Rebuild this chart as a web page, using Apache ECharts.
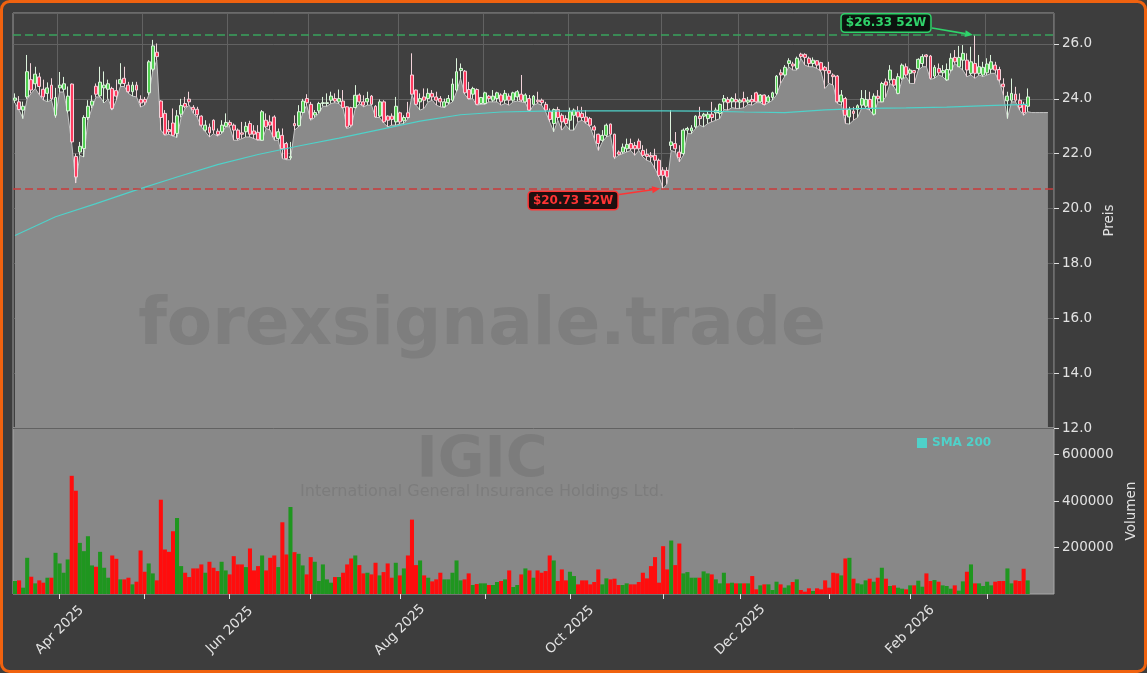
<!DOCTYPE html>
<html><head><meta charset="utf-8">
<script src="https://cdn.jsdelivr.net/npm/echarts@6/dist/echarts.min.js"></script>
<style>html,body{margin:0;padding:0;background:#3d3d3d;}#c{width:1147px;height:673px;}</style>
</head><body><div id="c"></div>
<script>
// ---------- data ----------
const startDate = '2025-03-17';
const marketHolidays = ['2025-04-18','2025-05-26','2025-06-19','2025-07-04','2025-09-01','2025-11-27','2025-12-25','2026-01-01','2026-01-19','2026-02-16'];
const monthNames = ['Jan','Feb','Mar','Apr','May','Jun','Jul','Aug','Sep','Oct','Nov','Dec'];

const opens = [23.95,23.89,23.59,24.07,24.7,24.55,24.8,24.35,24.2,24.5,23.4,24.4,24.35,23.56,24.54,21.9,22.06,22.19,23.32,23.77,
24.46,24.11,24.4,24.35,24.38,24.3,24.55,24.75,24.5,24.26,24.5,23.98,23.98,24.22,25.08,25.7,23.92,23.47,22.88,23.12,
22.74,23.44,23.83,23.99,23.69,23.62,23.37,22.86,22.97,23.22,22.82,22.8,23.0,23.14,23.04,22.86,22.76,22.8,23.1,22.83,
22.78,22.49,23.22,23.16,23.34,22.55,22.67,22.37,21.85,23.1,23.02,23.5,24.01,23.8,23.41,23.56,23.83,23.83,23.95,24.01,
23.89,23.92,23.71,23.68,23.68,24.14,23.89,23.89,24.1,23.73,23.37,23.89,23.37,23.37,23.16,23.49,23.2,23.49,24.87,24.32,
23.89,24.07,24.01,24.2,24.07,24.01,23.71,23.86,23.95,24.32,25.03,25.01,24.34,24.17,24.34,23.83,23.83,24.1,23.95,24.01,
24.14,23.95,24.1,23.95,24.07,24.17,23.89,24.01,23.8,23.95,23.95,23.8,23.53,23.1,23.61,23.4,23.28,23.22,23.4,23.53,
23.47,23.34,23.28,22.98,22.71,22.49,22.67,23.08,22.71,22.06,22.06,22.18,22.37,22.3,22.46,22.12,21.98,21.94,21.94,21.76,
21.4,21.39,22.3,22.37,22.06,22.0,22.86,22.83,22.98,23.37,23.37,23.28,23.44,23.49,23.47,23.89,23.98,23.89,23.98,23.88,
24.01,23.88,23.98,24.22,23.89,24.14,23.89,24.05,24.2,24.95,24.87,25.29,25.27,25.11,25.63,25.62,25.48,25.29,25.39,25.32,
25.15,25.03,24.87,24.83,23.89,24.01,23.34,23.55,23.61,23.77,23.73,23.98,23.44,24.1,23.89,24.62,24.69,24.71,24.2,24.75,
25.17,24.93,25.03,25.11,25.29,25.6,25.56,24.83,25.11,24.95,24.69,25.05,25.51,25.17,25.41,25.41,24.93,25.29,24.93,24.87,
24.95,25.08,25.23,25.07,24.54,23.93,23.95,24.17,23.95,23.8,23.73];
const highs = [24.2,24.1,23.9,25.6,25.3,25.17,24.95,24.7,24.6,24.75,24.4,24.98,24.8,24.45,24.56,22.0,22.43,23.4,23.95,24.13,
24.56,25.17,25.0,24.7,24.44,24.7,25.3,25.17,24.62,24.62,24.62,24.13,24.07,25.41,26.15,26.02,23.95,23.59,23.22,23.65,
23.59,24.0,24.07,24.26,23.77,23.71,23.4,23.22,23.1,23.25,22.92,23.22,23.47,23.22,23.1,22.92,23.16,23.16,23.2,23.04,
23.04,23.59,23.47,23.4,23.4,22.92,22.92,22.43,22.43,23.4,23.77,24.0,24.17,23.89,23.59,23.89,24.07,24.2,24.26,24.2,
24.34,24.32,23.73,23.71,24.5,24.2,24.13,24.26,24.14,23.77,23.98,23.95,23.4,23.47,24.07,23.53,23.4,23.89,25.66,24.34,
24.2,24.38,24.38,24.32,24.26,24.1,24.01,24.14,24.74,25.48,25.29,25.05,24.62,24.44,24.38,24.07,24.26,24.14,24.32,24.26,
24.2,24.32,24.2,24.26,24.32,24.87,24.2,24.14,24.14,24.26,24.01,23.89,23.65,23.65,23.71,23.47,23.4,23.68,23.65,23.73,
23.71,23.59,23.34,23.04,22.73,22.86,23.1,23.1,22.73,22.12,22.37,22.55,22.55,22.43,22.55,22.31,22.18,22.06,22.18,21.82,
21.51,21.51,23.59,22.79,22.31,22.92,22.98,23.04,23.4,23.71,23.49,23.53,23.89,23.68,23.83,24.14,24.07,24.07,24.2,24.01,
24.26,24.07,24.14,24.26,24.17,24.16,24.14,24.26,24.87,25.07,25.23,25.48,25.35,25.54,25.68,25.66,25.54,25.51,25.41,25.35,
25.2,25.35,24.93,24.87,24.32,24.07,23.71,23.71,23.8,24.32,24.32,24.26,24.2,24.32,24.62,24.74,25.23,24.74,24.93,25.29,
25.29,25.11,25.05,25.48,25.63,25.63,25.6,25.23,25.29,25.23,25.29,25.66,25.78,25.93,25.96,25.66,25.9,26.33,25.6,25.35,
25.48,25.6,25.35,25.17,24.75,24.26,24.74,24.44,24.2,23.89,24.38];
const lows = [23.85,23.59,23.28,24.0,24.2,24.38,24.15,23.95,23.9,23.95,23.32,24.25,24.25,23.47,22.37,20.93,21.94,21.88,23.22,23.65,
24.07,24.07,23.85,24.0,23.59,23.95,24.45,24.45,24.2,24.1,24.07,23.7,23.77,24.13,24.99,25.41,22.86,22.67,22.71,22.64,
22.59,23.32,23.65,23.77,23.47,23.32,22.98,22.8,22.61,22.73,22.64,22.73,22.98,22.98,22.49,22.49,22.55,22.61,22.61,22.55,
22.49,22.49,22.92,22.86,22.49,22.49,21.82,21.78,21.78,22.86,22.98,23.47,23.77,23.22,23.32,23.47,23.73,23.73,23.83,23.86,
23.83,23.65,22.92,22.98,23.65,23.83,23.71,23.77,23.77,23.32,23.32,23.12,22.98,23.04,23.04,23.08,23.1,23.28,24.14,23.77,
23.59,23.65,23.89,23.95,23.77,23.71,23.68,23.8,23.89,24.26,24.74,24.17,23.98,24.01,23.77,23.8,23.8,23.89,23.89,23.89,
23.77,23.83,23.77,23.89,23.92,23.89,23.86,23.53,23.77,23.83,23.77,23.53,23.16,22.8,23.22,22.86,23.04,22.86,22.86,23.16,
23.22,23.1,22.98,22.55,22.12,22.43,22.61,22.67,21.82,21.94,22.0,22.06,22.12,21.94,22.12,21.88,21.76,21.7,21.45,21.15,
20.73,20.9,22.12,22.06,21.7,21.94,22.73,22.73,22.92,23.04,22.98,23.1,23.16,23.22,23.28,23.61,23.59,23.68,23.65,23.65,
23.68,23.8,23.77,23.86,23.86,23.77,23.86,23.95,24.14,24.56,24.81,25.17,25.05,25.05,25.48,25.23,25.17,25.17,25.11,24.99,
24.38,24.56,24.5,23.83,23.77,23.1,23.08,23.22,23.32,23.65,23.65,23.59,23.4,23.89,23.89,24.07,24.56,24.44,24.17,24.69,
24.81,24.56,24.56,25.05,25.17,25.17,24.71,24.75,24.87,24.81,24.66,24.99,25.29,25.17,25.05,24.81,24.87,24.75,24.87,24.81,
24.87,24.93,24.93,24.62,24.14,23.28,23.89,23.89,23.59,23.4,23.53];
const closes = [24.03,23.61,23.73,24.99,24.32,24.9,24.45,24.07,24.4,24.0,24.05,24.5,24.55,24.1,22.43,21.15,22.27,23.32,23.73,23.92,
24.17,24.61,24.5,24.55,23.65,24.1,24.7,24.56,24.26,24.5,24.32,23.85,23.88,25.35,25.93,25.54,23.32,22.71,22.8,22.67,
23.38,23.76,23.71,23.89,23.6,23.42,23.04,23.04,22.76,22.86,22.7,23.04,23.14,23.04,22.86,22.55,22.71,23.0,22.71,22.71,
22.51,23.53,22.98,23.04,22.61,22.8,22.18,21.82,21.9,23.02,23.53,23.92,23.86,23.28,23.5,23.83,23.86,23.86,24.1,23.92,
24.01,23.68,22.98,23.04,24.13,23.89,23.77,24.01,23.8,23.34,23.89,23.16,23.22,23.25,23.73,23.16,23.32,23.32,24.17,23.8,
24.01,23.95,24.2,24.07,23.95,23.89,23.89,24.01,24.54,24.99,25.11,24.22,24.01,24.38,23.8,24.05,24.22,24.01,24.1,24.22,
23.89,24.2,23.95,24.22,24.26,23.95,24.14,23.59,24.1,23.89,23.86,23.59,23.25,23.61,23.32,23.16,23.1,23.53,23.59,23.34,
23.32,23.16,23.04,22.86,22.37,22.67,23.04,22.71,21.88,21.98,22.24,22.34,22.18,22.18,22.18,21.94,21.9,21.88,21.76,21.21,
21.21,21.15,22.43,22.18,21.85,22.86,22.92,22.94,23.37,23.28,23.44,23.44,23.32,23.59,23.8,24.01,23.86,24.01,23.89,23.95,
23.89,23.95,23.89,23.89,24.14,23.8,24.07,24.22,24.83,24.87,25.15,25.39,25.2,25.48,25.54,25.51,25.29,25.41,25.23,25.05,
25.03,24.93,24.81,23.89,24.14,23.4,23.61,23.47,23.75,24.01,23.98,23.65,24.1,24.01,24.56,24.5,25.05,24.5,24.81,25.23,
24.87,25.05,24.95,25.44,25.54,25.54,24.75,25.15,24.95,25.03,25.07,25.48,25.35,25.51,25.66,25.05,25.35,24.93,25.17,25.15,
25.27,25.35,25.05,24.69,24.44,24.1,24.2,23.95,23.68,23.49,24.07];
const volumes = [55800,58600,27200,155700,74300,45800,58600,48600,70000,70000,177100,131400,91500,148600,508300,444100,219900,184300,248500,122900,
117200,181400,112900,70000,165700,151400,62900,62900,70000,41500,52900,187100,95700,131400,88600,58600,405500,191400,181400,269900,
327000,120000,91500,72900,110000,110000,127200,91500,138600,112900,98600,138600,101400,84300,162800,127200,127200,115700,195700,101400,
120000,165700,101400,155700,165700,115700,308500,170000,374100,180000,172800,122900,84300,158600,138600,55800,127200,62900,48600,72900,
72900,91500,127200,152800,165700,124300,88600,91500,84300,134300,80000,94300,131400,70000,134300,80000,110000,165700,319900,124300,
144300,80000,70000,54300,62900,91500,62900,62900,91500,144300,58600,62900,88600,38600,42900,45800,45800,38600,38600,51500,
55800,62900,101400,30100,38600,84300,110000,101400,70000,101400,91500,98600,165700,144300,55800,105700,58600,95700,77200,41500,
58600,58600,41500,51500,105700,41500,67200,62900,65800,38600,38600,45800,41500,41500,51500,91500,67200,120000,158600,48600,
205700,105700,229900,124300,217100,88600,94300,70000,70000,70000,97200,88600,84300,62900,45800,91500,45800,48600,45800,45800,
45800,45800,77200,20100,37200,41500,41500,17200,52900,41500,27200,37200,51500,62900,17200,10100,24400,12900,24400,20100,
58600,27200,91500,88600,80000,152800,155700,65800,45800,41500,58600,65800,52900,70000,112900,65800,34300,37200,27200,22900,
20100,37200,37200,57200,31400,88600,55800,60000,52900,37200,34300,22900,37200,14400,54300,95700,127200,45800,45800,34300,
52900,37200,52900,55800,55800,110000,45800,58600,55800,108600,58600];
// SMA 200 read every 10 trading days, starting at the first candle
const smaStep = 10;
const sma200 = [19.02,19.7,20.18,20.68,21.15,21.6,21.97,22.28,22.57,22.88,23.19,23.42,23.52,23.55,23.56,23.56,23.56,23.55,23.52,23.5,23.6,23.65,23.67,23.7,23.75,23.8];
const lowTail = [23.5,23.5,23.5,23.5,23.5];
const high52 = 26.33, low52 = 20.73;
const priceTicks = [12,14,16,18,20,22,24,26];
const volumeTicks = [200000,400000,600000];
const title = 'IGIC', company = 'International General Insurance Holdings Ltd.', brand = 'forexsignale.trade';

// ---------- build ----------
function buildTradingDays(start, count, closed) {
  const out = []; const d = new Date(start + 'T00:00:00Z');
  while (out.length < count) {
    const wd = d.getUTCDay(); const s = d.toISOString().slice(0, 10);
    if (wd !== 0 && wd !== 6 && closed.indexOf(s) < 0) out.push(s);
    d.setUTCDate(d.getUTCDate() + 1);
  }
  return out;
}
const N = opens.length;
const dates = buildTradingDays(startDate, N, marketHolidays);
const padN = 6;
const cats = dates.concat(Array.from({length: padN}, (_, k) => 'pad' + k));
function monthStart(i) { return i > 0 && i < N && dates[i].slice(0, 7) !== dates[i - 1].slice(0, 7); }
function labelMonth(i) { return monthStart(i) && (+dates[i].slice(5, 7)) % 2 === 0; }

const candleData = opens.map((o, i) => [o, closes[i], lows[i], highs[i]]);
const UPV = '#1f961f', DNV = '#ff0d0d';
const volData = volumes.map((v, i) => ({ value: v, itemStyle: { color: closes[i] >= opens[i] ? UPV : DNV } }));
const smaData = cats.map((_, i) => (i % smaStep === 0 && i / smaStep < sma200.length) ? sma200[i / smaStep] : null);
const lowArea = lows.concat(lowTail);

const FONT = 'DejaVu Sans';
const TXT = '#e2e2e2';
const chart = echarts.init(document.getElementById('c'));
chart.setOption({
  animation: false,
  backgroundColor: '#3d3d3d',
  textStyle: { fontFamily: FONT },
  grid: [
    { left: 13, right: 93, top: 13, height: 415, show: true, backgroundColor: '#404040', borderColor: '#9a9a9a', borderWidth: 1, outerBoundsMode: 'none' },
    { left: 13, right: 93, top: 428, height: 166, show: true, backgroundColor: '#888888', borderColor: '#a8a8a8', borderWidth: 1, outerBoundsMode: 'none' }
  ],
  legend: {
    data: ['SMA 200'], left: 912, top: 432, icon: 'rect', itemWidth: 10, itemHeight: 10, itemGap: 5,
    textStyle: { color: '#4fd1c9', fontWeight: 'bold', fontSize: 12, fontFamily: FONT }, selectedMode: false
  },
  xAxis: [
    { type: 'category', gridIndex: 0, data: cats, boundaryGap: true,
      axisLine: { show: false }, axisTick: { show: false }, axisLabel: { show: false },
      splitLine: { show: true, interval: (i) => monthStart(i), lineStyle: { color: '#626262', width: 1 } } },
    { type: 'category', gridIndex: 1, data: cats, boundaryGap: true,
      axisLine: { show: false },
      axisTick: { show: true, alignWithLabel: true, interval: (i) => monthStart(i), length: 5, lineStyle: { color: '#e0e0e0' } },
      axisLabel: { show: true, interval: (i) => labelMonth(i), rotate: 45, align: 'center', verticalAlign: 'middle', margin: 36,
        color: TXT, fontSize: 13.5, fontFamily: FONT,
        formatter: (v) => { const i = dates.indexOf(v); if (i < 0) return ''; return monthNames[+v.slice(5, 7) - 1] + ' ' + v.slice(0, 4); } },
      splitLine: { show: false } }
  ],
  yAxis: [
    { type: 'value', gridIndex: 0, position: 'right', min: 12, max: 27.13, interval: 2, scale: true,
      axisLine: { show: false }, axisTick: { show: true, length: 5, lineStyle: { color: '#e0e0e0' } },
      axisLabel: { color: TXT, fontSize: 13.5, margin: 8, fontFamily: FONT, showMaxLabel: false,
        formatter: (v) => priceTicks.indexOf(Math.round(v * 100) / 100) >= 0 ? v.toFixed(1) : '' },
      splitLine: { show: true, lineStyle: { color: '#626262', width: 1 } },
      name: 'Preis', nameLocation: 'middle', nameRotate: 90, nameGap: 47,
      nameTextStyle: { color: TXT, fontSize: 13.5, fontFamily: FONT } },
    { type: 'value', gridIndex: 1, position: 'right', min: 0, max: 714000, interval: 200000,
      axisLine: { show: false }, axisTick: { show: true, length: 5, lineStyle: { color: '#e0e0e0' } },
      axisLabel: { color: TXT, fontSize: 13.5, margin: 8, fontFamily: FONT, showMaxLabel: false, showMinLabel: false,
        formatter: (v) => volumeTicks.indexOf(v) >= 0 ? String(v) : '' },
      splitLine: { show: false },
      name: 'Volumen', nameLocation: 'middle', nameRotate: 90, nameGap: 64,
      nameTextStyle: { color: TXT, fontSize: 13.5, fontFamily: FONT } }
  ],
  series: [
    { name: 'Low', type: 'line', xAxisIndex: 0, yAxisIndex: 0, data: lowArea, symbol: 'none', z: 1,
      lineStyle: { color: '#c4c4c4', width: 1 }, areaStyle: { color: '#8a8a8a', opacity: 1, origin: 'start' } },
    { name: 'IGIC', type: 'candlestick', xAxisIndex: 0, yAxisIndex: 0, data: candleData, barWidth: 3.4, z: 3,
      itemStyle: { color: '#52cf52', color0: '#ff3b5f', borderColor: '#dcf3dc', borderColor0: '#f3d3da', borderWidth: 1 },
      markLine: { silent: true, symbol: 'none', label: { show: false },
        data: [
          { yAxis: high52, lineStyle: { color: '#38a25c', type: [8, 4], width: 1.6 } },
          { yAxis: low52, lineStyle: { color: '#c93b3b', type: [8, 4], width: 1.6 } }
        ] } },
    { name: 'SMA 200', type: 'line', xAxisIndex: 0, yAxisIndex: 0, data: smaData, connectNulls: true, symbol: 'none', z: 4,
      color: '#4fd1c9', lineStyle: { color: '#4fd1c9', width: 1.2 } },
    { name: 'Volume', type: 'bar', xAxisIndex: 1, yAxisIndex: 1, data: volData, barCategoryGap: '0%', z: 2 }
  ]
});

// ---------- annotations ----------
const hiIdx = highs.indexOf(Math.max.apply(null, highs));
const loIdx = lows.indexOf(Math.min.apply(null, lows));
const pHi = chart.convertToPixel({ xAxisIndex: 0, yAxisIndex: 0 }, [hiIdx, high52]);
const pLo = chart.convertToPixel({ xAxisIndex: 0, yAxisIndex: 0 }, [loIdx, low52]);
function arrow(x1, y1, x2, y2, color) {
  const a = Math.atan2(y2 - y1, x2 - x1), L = 8, W = 3.5;
  const bx = x2 - L * Math.cos(a), by = y2 - L * Math.sin(a);
  return [
    { type: 'line', shape: { x1: x1, y1: y1, x2: bx, y2: by }, style: { stroke: color, lineWidth: 1.6 }, z: 150 },
    { type: 'polygon', shape: { points: [[x2, y2], [bx - W * Math.sin(a), by + W * Math.cos(a)], [bx + W * Math.sin(a), by - W * Math.cos(a)]] }, style: { fill: color }, z: 150 }
  ];
}
function tag(x, y, text, color, bg) {
  return { type: 'text', x: x, y: y, z: 160, style: { text: text, font: 'bold 12px "DejaVu Sans"', fill: color,
    backgroundColor: bg, borderColor: color, borderWidth: 1.5, borderRadius: 3, padding: [3, 4, 2, 4],
    textAlign: 'center', textVerticalAlign: 'middle' } };
}
const wm = 'rgba(40,40,40,0.12)';
chart.setOption({ graphic: [
  { type: 'text', x: 482, y: 327, z: 120, silent: true, style: { text: brand, font: 'bold 66px "DejaVu Sans"', fill: wm, textAlign: 'center', textVerticalAlign: 'middle' } },
  { type: 'text', x: 482, y: 462, z: 120, silent: true, style: { text: title, font: 'bold 57px "DejaVu Sans"', fill: wm, textAlign: 'center', textVerticalAlign: 'middle' } },
  { type: 'text', x: 482, y: 492, z: 120, silent: true, style: { text: company, font: '16px "DejaVu Sans"', fill: wm, textAlign: 'center', textVerticalAlign: 'middle' } },
  tag(pHi[0] - 89, pHi[1] - 12, '$' + high52.toFixed(2) + ' 52W', '#2fd36a', 'rgba(8,14,10,0.92)'),
  ...arrow(pHi[0] - 43, pHi[1] - 7, pHi[0] - 2, pHi[1], '#2fd36a'),
  tag(pLo[0] - 90, pLo[1] + 12, '$' + low52.toFixed(2) + ' 52W', '#ff3434', 'rgba(18,6,6,0.92)'),
  ...arrow(pLo[0] - 44, pLo[1] + 6, pLo[0] - 3, pLo[1], '#ff3434'),
  { type: 'rect', z: 200, silent: true, shape: { x: 1.5, y: 1.5, width: 1144, height: 670, r: 8 }, style: { fill: 'none', stroke: '#f0620f', lineWidth: 3 } }
] });
</script></body></html>
